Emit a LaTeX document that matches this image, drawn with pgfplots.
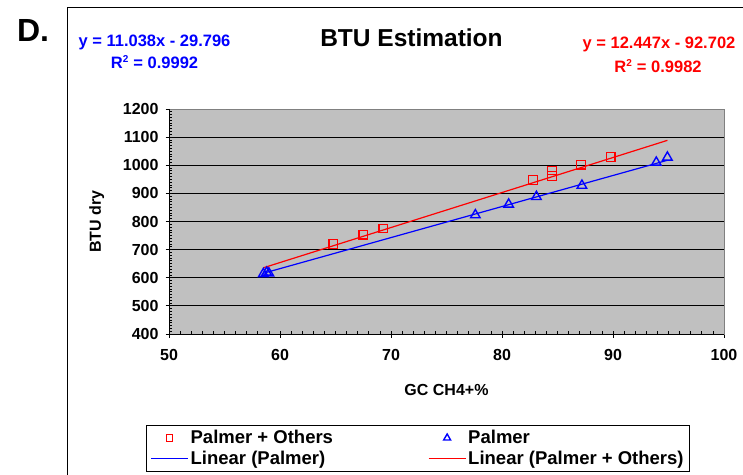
\documentclass[border=0pt]{standalone}
\usepackage{pgfplots}
\pgfplotsset{compat=1.18}
\usepackage{fontspec}
\setmainfont{Liberation Sans}
\definecolor{xlgray}{RGB}{192,192,192}
\definecolor{xlred}{RGB}{255,0,0}
\definecolor{xlblue}{RGB}{0,0,255}
\pgfplotsset{
  markleg/.style={legend image code/.code={\draw[##1, only marks, mark size=#1] plot coordinates {(18.5pt,0pt)};}},
  lineleg/.style={legend image code/.code={\draw[##1] (0pt,0pt) -- (37pt,0pt);}},
}
\newcommand{\sq}{\textsuperscript{\fontsize{10}{10}\selectfont 2}}
\begin{document}
\begin{tikzpicture}[x=1pt,y=1pt]
\path[use as bounding box] (0,0) rectangle (743,474);
\draw[line width=1.5pt] (67.5,-20) rectangle (780,466.5);
\node[font=\bfseries\fontsize{32}{32}\selectfont] at (33,444) {D.};
\node[font=\bfseries\fontsize{24.5}{26}\selectfont] at (411.5,436.5) {BTU Estimation};
\node[anchor=base, text=xlblue, font=\bfseries\fontsize{16.5}{18}\selectfont] at (154.5,427) {y = 11.038x - 29.796};
\node[anchor=base, text=xlblue, font=\bfseries\fontsize{16.5}{18}\selectfont] at (154.5,405) {R\sq{} = 0.9992};
\node[anchor=base, text=xlred, font=\bfseries\fontsize{16.5}{18}\selectfont] at (659,425) {y = 12.447x - 92.702};
\node[anchor=base, text=xlred, font=\bfseries\fontsize{16.5}{18}\selectfont] at (658,401) {R\sq{} = 0.9982};
\begin{axis}[
  at={(169pt,140pt)}, anchor=south west,
  scale only axis, width=555pt, height=225pt,
  xmin=50, xmax=100, ymin=400, ymax=1200,
  xtick={50,60,...,100}, ytick={400,500,...,1200},
  minor x tick num=9, minor y tick num=9,
  tick pos=left,
  tick align=inside,
  major tick length=7pt, minor tick length=3pt,
  major x tick style={yshift=-3.5pt},
  major y tick style={xshift=-3.5pt},
  tick style={black, line width=0.8pt},
  axis background/.style={fill=xlgray},
  ymajorgrids, major grid style={black, line width=0.8pt},
  axis line style={draw=gray, line width=0.8pt},
  ticklabel style={font=\bfseries\fontsize{16}{16}\selectfont},
  xticklabel style={yshift=-12pt},
  yticklabel style={xshift=-7pt},
  /pgf/number format/assume math mode=true,
  /pgf/number format/1000 sep={},
  xlabel={GC CH4+\%}, ylabel={BTU dry},
  label style={font=\bfseries\fontsize{16}{16}\selectfont},
  xlabel style={at={(axis description cs:0.5,-0.249)}, anchor=center},
  ylabel style={at={(axis description cs:-0.13,0.5)}, anchor=center},
  legend columns=2,
  legend cell align=left,
  legend style={at={(axis description cs:-0.0414,-0.405)}, anchor=north west,
    draw=black, line width=0.8pt, fill=white,
    font=\bfseries\fontsize{18.5}{18.5}\selectfont,
    inner xsep=4pt, inner ysep=3pt, row sep=2pt,
    nodes={inner sep=2pt},
    /tikz/every even column/.append style={column sep=93pt}},
]
\addplot[only marks, mark=square, mark size=4.3pt, color=xlred, line width=1.2pt, markleg=3.3pt]
  coordinates {(64.8,720) (67.5,753) (69.3,775) (82.8,947) (84.5,962) (84.5,981) (87.1,1002) (89.8,1030)};
\addlegendentry{Palmer + Others}
\addplot[only marks, mark=triangle, mark size=5.5pt, color=xlblue, line width=1.4pt, markleg=4pt]
  coordinates {(58.5,614) (58.8,619) (59.0,616) (77.6,823) (80.6,861) (83.1,888) (87.2,928) (93.9,1010) (94.9,1028)};
\addlegendentry{Palmer}
\addplot[no marks, color=xlblue, line width=1.2pt, lineleg]
  coordinates {(58.5,615.9) (94.9,1017.7)};
\addlegendentry{Linear (Palmer)}
\addplot[no marks, color=xlred, line width=1.2pt, lineleg]
  coordinates {(58.5,635.4) (94.9,1088.5)};
\addlegendentry{Linear (Palmer + Others)}
\draw[black, line width=0.8pt] (rel axis cs:0,1) -- (rel axis cs:0,0) -- (rel axis cs:1,0);
\end{axis}
\end{tikzpicture}
\end{document}
